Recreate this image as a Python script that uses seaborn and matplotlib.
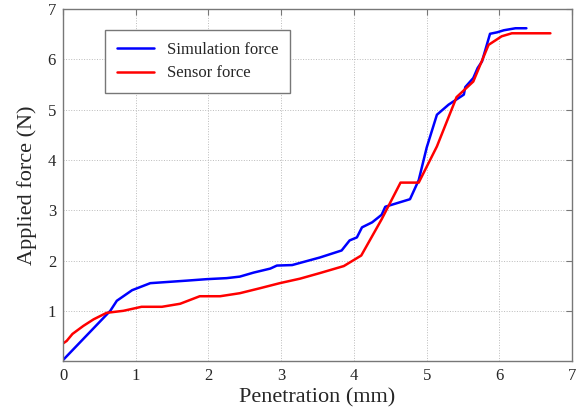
import pandas as pd
import numpy as np
import matplotlib
matplotlib.use("Agg")
import matplotlib.pyplot as plt
import seaborn as sns

# simulation force (blue)
sim_x = [0.0, 0.65, 0.74, 0.95, 1.2, 1.7, 1.98, 2.25, 2.43, 2.62, 2.85, 2.94, 3.15,
         3.53, 3.83, 3.94, 4.04, 4.11, 4.25, 4.38, 4.43, 4.77, 4.89, 5.0, 5.14,
         5.30, 5.51, 5.53, 5.64, 5.70, 5.76, 5.87, 5.97, 6.06, 6.22, 6.37]
sim_y = [0.02, 1.0, 1.2, 1.41, 1.55, 1.60, 1.63, 1.65, 1.68, 1.76, 1.84, 1.90, 1.91,
         2.06, 2.20, 2.40, 2.46, 2.66, 2.76, 2.91, 3.07, 3.22, 3.6, 4.25, 4.90,
         5.10, 5.30, 5.45, 5.63, 5.83, 5.96, 6.51, 6.54, 6.58, 6.62, 6.62]

# sensor force (red)
sen_x = [0.0, 0.05, 0.13, 0.28, 0.42, 0.60, 0.83, 1.08, 1.36, 1.61, 1.88, 2.16,
         2.43, 2.71, 2.98, 3.26, 3.53, 3.86, 4.10, 4.38, 4.64, 4.89, 5.14, 5.41,
         5.64, 5.85, 6.03, 6.17, 6.70]
sen_y = [0.35, 0.40, 0.54, 0.70, 0.83, 0.96, 1.0, 1.08, 1.08, 1.14, 1.29, 1.29,
         1.35, 1.45, 1.55, 1.64, 1.75, 1.89, 2.10, 2.82, 3.55, 3.55, 4.27, 5.25,
         5.56, 6.29, 6.46, 6.52, 6.52]

df = pd.concat([
    pd.DataFrame({"x": sim_x, "y": sim_y, "series": "Simulation force"}),
    pd.DataFrame({"x": sen_x, "y": sen_y, "series": "Sensor force"}),
])

sns.set_style("white")
plt.rcParams["font.family"] = ["Liberation Serif", "DejaVu Serif"]

fig = plt.figure(figsize=(5.78, 4.16), dpi=100)
ax = fig.add_axes([0.109, 0.132, 0.881, 0.846])

sns.lineplot(data=df, x="x", y="y", hue="series", sort=False, estimator=None,
             palette={"Simulation force": "#0000ff", "Sensor force": "#ff0000"},
             linewidth=1.8, ax=ax)

ax.set_xlim(0, 7)
ax.set_ylim(0, 7)
ax.set_xticks(range(0, 8))
ax.set_yticks(range(1, 8))
ax.grid(True, linestyle=":", color="#bbbbbb", linewidth=0.7)
for s in ax.spines.values():
    s.set_color("#777777")
    s.set_linewidth(1.0)
ax.tick_params(direction="in", top=True, right=True, length=4, color="#777777",
               labelsize=12, pad=5)

ax.set_xlabel("Penetration (mm)", fontsize=16, labelpad=3)
ax.set_ylabel("Applied force (N)", fontsize=16, labelpad=8)

leg = ax.legend(loc="upper left", bbox_to_anchor=(0.083, 0.94), fontsize=12,
                frameon=True, fancybox=False, framealpha=1, handlelength=2.2,
                borderpad=0.7, labelspacing=0.45, borderaxespad=0)
leg.get_frame().set_edgecolor("#777777")
leg.get_frame().set_linewidth(1.0)

fig.savefig("out.png", dpi=100)
